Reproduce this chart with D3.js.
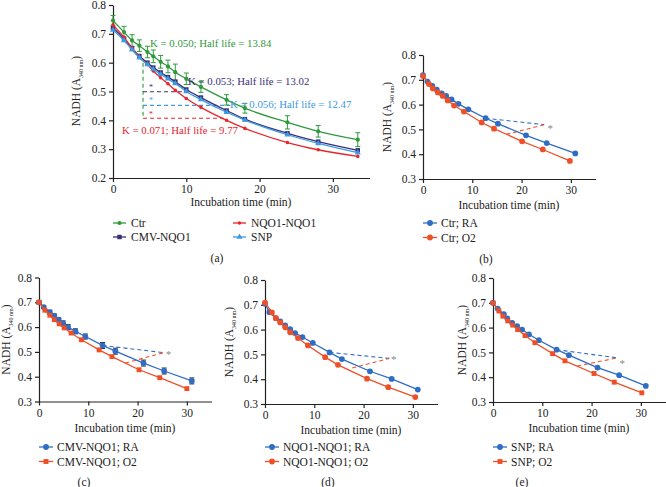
<!DOCTYPE html>
<html>
<head>
<meta charset="utf-8">
<script src="https://cdn.jsdelivr.net/npm/d3@7"></script>
<style>
  body { margin: 0; background: #fff; }
  svg { display: block; }
  text { font-family: "Liberation Serif", "Times New Roman", serif; fill: #222; }
</style>
</head>
<body>
<div id="chart"></div>
<script>
// ---- panel (a) data ----
var timeA   = [0, 1.5, 2.6, 3.6, 4.7, 5.5, 6.5, 7.5, 8.5, 10, 12, 15.5, 18, 23.8, 28, 33.4];
var ctrA    = [0.746, 0.706, 0.677, 0.659, 0.637, 0.622, 0.603, 0.587, 0.567, 0.544, 0.516, 0.471, 0.442, 0.393, 0.362, 0.333];
var ctrErrA = [0.018, 0.02, 0.02, 0.02, 0.02, 0.022, 0.022, 0.022, 0.028, 0.02, 0.019, 0.018, 0.017, 0.023, 0.02, 0.024];
var cmvA    = [0.720, 0.683, 0.650, 0.623, 0.600, 0.583, 0.566, 0.550, 0.534, 0.507, 0.479, 0.434, 0.404, 0.355, 0.326, 0.296];
var nqoA    = [0.731, 0.688, 0.651, 0.619, 0.594, 0.571, 0.548, 0.527, 0.504, 0.476, 0.445, 0.400, 0.372, 0.323, 0.298, 0.275];
var snpA    = [0.713, 0.677, 0.645, 0.617, 0.594, 0.577, 0.560, 0.544, 0.528, 0.500, 0.472, 0.428, 0.401, 0.350, 0.320, 0.288];
var namesA  = ["Ctr", "CMV-NQO1", "NQO1-NQO1", "SNP"];
// K labels in order: Ctr, CMV-NQO1, SNP, NQO1-NQO1
var kLabelsA = ["K = 0.050; Half life = 13.84", "K = 0.053; Half life = 13.02",
                "K = 0.056; Half life = 12.47", "K = 0.071; Half life = 9.77"];

// ---- panels (b)-(e) data: RA and O2 series ----
var timeRA_b = [0, 0.9, 1.9, 2.8, 3.8, 4.7, 5.8, 7.2, 9.2, 12.7, 15.2, 20.9, 25.1, 30.9];
var ctrRA    = [0.719, 0.693, 0.675, 0.660, 0.645, 0.635, 0.621, 0.603, 0.581, 0.545, 0.523, 0.476, 0.445, 0.403];
var timeO2_b = [0, 1.2, 2, 3, 4, 5, 6.3, 8.3, 11.9, 14.4, 20.1, 24.3, 29.8];
var ctrO2    = [0.715, 0.683, 0.665, 0.649, 0.635, 0.617, 0.596, 0.572, 0.528, 0.503, 0.452, 0.419, 0.373];

var timeRA_c = [0, 0.95, 2.2, 3.1, 4, 4.9, 5.9, 7.4, 9.4, 12.9, 15.5, 21.2, 25.4, 31];
var cmvRA    = [0.700, 0.681, 0.660, 0.645, 0.630, 0.615, 0.600, 0.583, 0.562, 0.526, 0.503, 0.455, 0.423, 0.383];
var cmvRAErr = [0.006, 0.006, 0.008, 0.008, 0.008, 0.01, 0.01, 0.01, 0.01, 0.012, 0.012, 0.012, 0.012, 0.012];
var timeO2_c = [0, 1.2, 2.2, 3.1, 4.1, 5.1, 6.5, 8.6, 12.2, 14.8, 20.3, 24.5, 30];
var cmvO2    = [0.700, 0.668, 0.648, 0.630, 0.613, 0.597, 0.576, 0.549, 0.508, 0.481, 0.428, 0.396, 0.352];

var timeRA_d = [0, 0.9, 2.2, 3.1, 4.1, 5.1, 6.1, 7.6, 9.7, 13.1, 15.6, 21.3, 25.7, 31];
var nqoRA    = [0.704, 0.670, 0.646, 0.633, 0.617, 0.602, 0.586, 0.570, 0.546, 0.508, 0.481, 0.432, 0.401, 0.358];
var timeO2_d = [0, 1.4, 2.2, 3.1, 4.1, 5.1, 6.7, 8.7, 12.2, 14.8, 20.7, 25, 30.5];
var nqoO2    = [0.709, 0.669, 0.646, 0.629, 0.609, 0.589, 0.566, 0.536, 0.489, 0.458, 0.402, 0.368, 0.328];

var timeRA_e = [0, 0.95, 2.2, 2.9, 3.9, 4.9, 5.9, 7.3, 9.3, 12.9, 15.4, 21.2, 25.6, 31];
var snpRA    = [0.700, 0.677, 0.654, 0.637, 0.619, 0.606, 0.592, 0.573, 0.549, 0.511, 0.489, 0.439, 0.408, 0.365];
var timeO2_e = [0, 1.2, 2, 3, 4, 5, 6.5, 8.5, 12.1, 14.6, 20.5, 24.6, 30.2];
var snpO2    = [0.700, 0.667, 0.646, 0.627, 0.610, 0.592, 0.568, 0.539, 0.495, 0.466, 0.415, 0.380, 0.337];

var yTicksA  = [0.2, 0.3, 0.4, 0.5, 0.6, 0.7, 0.8];
var yTicksBE = [0.3, 0.4, 0.5, 0.6, 0.7, 0.8];
var xTicks   = [0, 10, 20, 30];

var svg = d3.select("#chart").append("svg")
    .attr("width", 666)
    .attr("height", 487);

var fs = 11.5;

//rotated y axis title with subscript
function yTitle(x, y) {
    var t = svg.append("text")
        .attr("transform", "translate(" + x + "," + y + ") rotate(-90)")
        .attr("text-anchor", "middle")
        .style("font-size", fs + "px");
    t.append("tspan").text("NADH (A");
    t.append("tspan").attr("dy", 3).style("font-size", "6px").text("340 nm");
    t.append("tspan").attr("dy", -3).text(")");
}

function drawAxes(x, y, yTicks) {
    var gx = svg.append("g")
        .attr("transform", "translate(0," + y.range()[0] + ")")
        .call(d3.axisBottom(x).tickValues(xTicks).tickSize(4).tickSizeOuter(0));
    var gy = svg.append("g")
        .attr("transform", "translate(" + x.range()[0] + ",0)")
        .call(d3.axisLeft(y).tickValues(yTicks).tickFormat(d3.format(".1f")).tickSize(4).tickSizeOuter(0));
    [gx, gy].forEach(function (g) {
        g.attr("font-family", null);
        g.selectAll("path, line").attr("stroke", "#222").attr("stroke-width", 1.2);
        g.selectAll("text").style("font-size", fs + "px").style("font-family", "Liberation Serif").attr("fill", "#222");
    });
}

function symbolPath(type, size) {
    return d3.symbol().type(type).size(size)();
}

// ================= panel (a) =================
(function () {
    var x = d3.scaleLinear().domain([0, 35]).range([113, 369.5]);
    var y = d3.scaleLinear().domain([0.2, 0.8]).range([178, 5]);
    drawAxes(x, y, yTicksA);

    var green = "#2f9a3c", purple = "#3b2f78", red = "#e8252b", blue = "#3d9ae0";
    var series = [
        {name: namesA[0], v: ctrA, color: green, sym: d3.symbolCircle, size: 14, err: ctrErrA},
        {name: namesA[1], v: cmvA, color: purple, sym: d3.symbolSquare, size: 20},
        {name: namesA[2], v: nqoA, color: red, sym: d3.symbolCircle, size: 10},
        {name: namesA[3], v: snpA, color: blue, sym: d3.symbolTriangle, size: 16}
    ];

    // half-life guide lines (data coordinates)
    var guides = [
        {color: green, x1: 4.1, y1: 0.600, x2: 4.1, y2: 0.407},
        {color: purple, x1: 4.1, y1: 0.499, x2: 9.4, y2: 0.499},
        {color: blue, x1: 4.1, y1: 0.452, x2: 16.0, y2: 0.452},
        {color: red, x1: 4.1, y1: 0.407, x2: 15.2, y2: 0.407}
    ];
    svg.selectAll(".guideA").data(guides).enter().append("line")
        .attr("x1", function (d) { return x(d.x1); })
        .attr("y1", function (d) { return y(d.y1); })
        .attr("x2", function (d) { return x(d.x2); })
        .attr("y2", function (d) { return y(d.y2); })
        .attr("stroke", function (d) { return d.color; })
        .attr("stroke-width", 1.1)
        .attr("stroke-dasharray", "4,3");

    // stars
    var stars = [{c: purple, v: 0.516}, {c: blue, v: 0.471}, {c: red, v: 0.423}];
    svg.selectAll(".starA").data(stars).enter().append("text")
        .attr("x", x(5.2)).attr("y", function (d) { return y(d.v) + 3; })
        .attr("text-anchor", "middle")
        .style("font-size", "8px")
        .style("fill", function (d) { return d.c; })
        .text("*");

    var line = d3.line()
        .x(function (d, i) { return x(timeA[i]); })
        .y(function (d) { return y(d); })
        .curve(d3.curveMonotoneX);

    series.forEach(function (s) {
        svg.append("path").datum(s.v)
            .attr("d", line)
            .attr("fill", "none")
            .attr("stroke", s.color)
            .attr("stroke-width", 1.3);
        if (s.err) {
            var eb = svg.append("g");
            s.v.forEach(function (v, i) {
                var cx = x(timeA[i]);
                eb.append("line").attr("x1", cx).attr("x2", cx)
                    .attr("y1", y(v - s.err[i])).attr("y2", y(v + s.err[i]))
                    .attr("stroke", s.color).attr("stroke-width", 1);
                [v - s.err[i], v + s.err[i]].forEach(function (e) {
                    eb.append("line").attr("x1", cx - 2.5).attr("x2", cx + 2.5)
                        .attr("y1", y(e)).attr("y2", y(e))
                        .attr("stroke", s.color).attr("stroke-width", 1);
                });
            });
        }
        svg.selectAll(null).data(s.v).enter().append("path")
            .attr("d", symbolPath(s.sym, s.size))
            .attr("transform", function (d, i) { return "translate(" + x(timeA[i]) + "," + y(d) + ")"; })
            .attr("fill", s.color);
    });

    // K annotations
    var kPos = [{x: 150, y: 47, c: green}, {x: 188, y: 85, c: purple}, {x: 230, y: 108, c: blue}, {x: 122, y: 134, c: red}];
    kLabelsA.forEach(function (k, i) {
        svg.append("text")
            .attr("x", kPos[i].x).attr("y", kPos[i].y)
            .style("font-size", "10.8px")
            .style("fill", kPos[i].c)
            .text(k);
    });

    yTitle(80, 91);
    svg.append("text").attr("x", 241).attr("y", 206).attr("text-anchor", "middle")
        .style("font-size", fs + "px").text("Incubation time (min)");

    // legend, two columns
    var legPos = [{x: 113, y: 223}, {x: 113, y: 237}, {x: 233, y: 223}, {x: 233, y: 237}];
    series.forEach(function (s, i) {
        var g = svg.append("g").attr("transform", "translate(" + legPos[i].x + "," + legPos[i].y + ")");
        g.append("line").attr("x1", 0).attr("x2", 13).attr("stroke", s.color).attr("stroke-width", 1.3);
        g.append("path").attr("d", symbolPath(s.sym, s.size)).attr("transform", "translate(6.5,0)").attr("fill", s.color);
        g.append("text").attr("x", 18).attr("y", 4).style("font-size", fs + "px").text(s.name);
    });
    svg.append("text").attr("x", 217).attr("y", 262).attr("text-anchor", "middle")
        .style("font-size", fs + "px").text("(a)");
})();

// ================= panels (b)-(e) =================
var blueC = "#2f6cc4", redC = "#ef4f27";

function drawPanel(p) {
    var x = d3.scaleLinear().domain([0, 35]).range([p.x0, p.x0 + 172.5]);
    var y = d3.scaleLinear().domain([0.3, 0.8]).range([p.yBot, p.yBot - 124]);
    drawAxes(x, y, yTicksBE);

    // dashed comparison lines
    svg.append("line")
        .attr("x1", x(p.dashRA[0])).attr("y1", y(p.dashRA[1]))
        .attr("x2", x(p.dashEnd[0])).attr("y2", y(p.dashEnd[1]))
        .attr("stroke", blueC).attr("stroke-width", 1.1).attr("stroke-dasharray", "4,3");
    svg.append("line")
        .attr("x1", x(p.dashO2[0])).attr("y1", y(p.dashO2[1]))
        .attr("x2", x(p.dashEnd[0])).attr("y2", y(p.dashEnd[1]))
        .attr("stroke", redC).attr("stroke-width", 1.1).attr("stroke-dasharray", "4,3");
    svg.append("text")
        .attr("x", x(p.star[0])).attr("y", y(p.star[1]) + 5)
        .attr("text-anchor", "middle")
        .style("font-size", "11px").style("fill", "#888")
        .text("*");

    var line = d3.line()
        .x(function (d) { return x(d[0]); })
        .y(function (d) { return y(d[1]); });

    var ser = [
        {t: p.tRA, v: p.vRA, err: p.errRA, color: blueC, sym: d3.symbolCircle, size: 26, label: p.name + "; RA"},
        {t: p.tO2, v: p.vO2, color: redC, sym: p.o2Sym, size: p.o2Sym === d3.symbolSquare ? 24 : 26, label: p.name + "; O2"}
    ];
    ser.forEach(function (s) {
        var pts = s.t.map(function (t, i) { return [t, s.v[i]]; });
        svg.append("path").datum(pts).attr("d", line)
            .attr("fill", "none").attr("stroke", s.color).attr("stroke-width", 1.3);
        if (s.err) {
            var eb = svg.append("g");
            pts.forEach(function (d, i) {
                var cx = x(d[0]);
                eb.append("line").attr("x1", cx).attr("x2", cx)
                    .attr("y1", y(d[1] - s.err[i])).attr("y2", y(d[1] + s.err[i]))
                    .attr("stroke", "#222").attr("stroke-width", 1);
                [d[1] - s.err[i], d[1] + s.err[i]].forEach(function (e) {
                    eb.append("line").attr("x1", cx - 2.5).attr("x2", cx + 2.5)
                        .attr("y1", y(e)).attr("y2", y(e))
                        .attr("stroke", "#222").attr("stroke-width", 1);
                });
            });
        }
        svg.selectAll(null).data(pts).enter().append("path")
            .attr("d", symbolPath(s.sym, s.size))
            .attr("transform", function (d) { return "translate(" + x(d[0]) + "," + y(d[1]) + ")"; })
            .attr("fill", s.color);
    });

    yTitle(p.yTitleX, p.yBot - 62);
    svg.append("text").attr("x", p.x0 + 86).attr("y", p.yBot + 30).attr("text-anchor", "middle")
        .style("font-size", fs + "px").text("Incubation time (min)");

    ser.forEach(function (s, i) {
        var g = svg.append("g").attr("transform", "translate(" + p.x0 + "," + (p.legY + i * 14.5) + ")");
        g.append("line").attr("x1", 0).attr("x2", 14).attr("stroke", s.color).attr("stroke-width", 1.3);
        g.append("path").attr("d", symbolPath(s.sym, s.size)).attr("transform", "translate(7,0)").attr("fill", s.color);
        g.append("text").attr("x", 18).attr("y", 4).style("font-size", fs + "px").text(s.label);
    });
    svg.append("text").attr("x", p.tagX).attr("y", p.tagY).attr("text-anchor", "middle")
        .style("font-size", fs + "px").text(p.tag);
}

drawPanel({name: "Ctr", tag: "(b)", x0: 423, yBot: 179, yTitleX: 391, legY: 223, tagX: 486, tagY: 263,
    tRA: timeRA_b, vRA: ctrRA, tO2: timeO2_b, vO2: ctrO2, o2Sym: d3.symbolCircle,
    dashRA: [12.7, 0.545], dashO2: [16.9, 0.48], dashEnd: [24.6, 0.519], star: [25.8, 0.509]});
drawPanel({name: "CMV-NQO1", tag: "(c)", x0: 39, yBot: 401.5, yTitleX: 10, legY: 447, tagX: 84, tagY: 486,
    tRA: timeRA_c, vRA: cmvRA, errRA: cmvRAErr, tO2: timeO2_c, vO2: cmvO2, o2Sym: d3.symbolSquare,
    dashRA: [12.9, 0.526], dashO2: [17.5, 0.455], dashEnd: [25.3, 0.497], star: [26.3, 0.494]});
drawPanel({name: "NQO1-NQO1", tag: "(d)", x0: 265, yBot: 404, yTitleX: 233, legY: 447, tagX: 328, tagY: 486,
    tRA: timeRA_d, vRA: nqoRA, tO2: timeO2_d, vO2: nqoO2, o2Sym: d3.symbolCircle,
    dashRA: [13.1, 0.508], dashO2: [17.7, 0.445], dashEnd: [25.2, 0.484], star: [26.1, 0.484]});
drawPanel({name: "SNP", tag: "(e)", x0: 493, yBot: 402, yTitleX: 466, legY: 447, tagX: 522, tagY: 486,
    tRA: timeRA_e, vRA: snpRA, tO2: timeO2_e, vO2: snpO2, o2Sym: d3.symbolSquare,
    dashRA: [12.9, 0.511], dashO2: [17.1, 0.445], dashEnd: [25.2, 0.478], star: [26.2, 0.462]});
</script>
</body>
</html>
